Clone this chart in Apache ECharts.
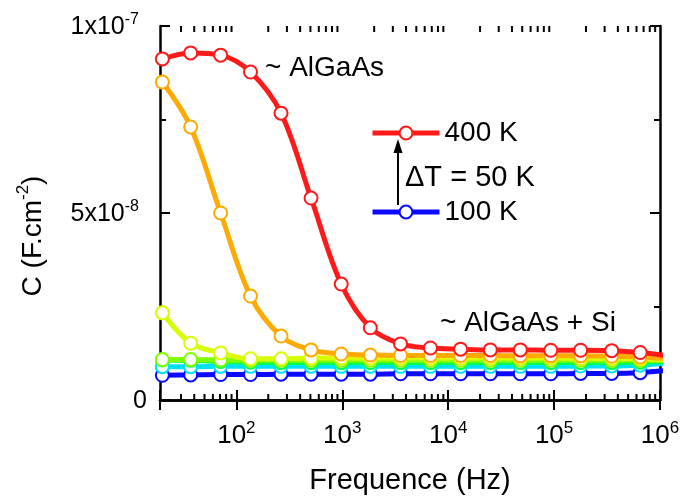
<!DOCTYPE html>
<html><head><meta charset="utf-8">
<script src="https://cdn.jsdelivr.net/npm/echarts@6/dist/echarts.min.js"></script>
<style>html,body{margin:0;padding:0;background:#fff}#c{width:682px;height:498px}</style>
</head><body><div id="c"></div>
<script>
// ---- data ----
const freq = [20, 37, 71, 136, 264, 507, 977, 1840, 3550, 6800, 13100, 25000, 48000, 93000, 178000, 350000, 650000, 1250000];
const c100 = [6.6e-9, 6.7e-9, 6.8e-9, 6.8e-9, 6.9e-9, 6.9e-9, 6.9e-9, 6.9e-9, 7.0e-9, 7.0e-9, 7.0e-9, 7.0e-9, 7.0e-9, 7.0e-9, 7.1e-9, 7.1e-9, 7.3e-9, 8.0e-9];
const c150 = [8.9e-9, 8.9e-9, 9.0e-9, 9.0e-9, 9.0e-9, 9.0e-9, 9.0e-9, 9.0e-9, 9.0e-9, 9.0e-9, 9.0e-9, 9.0e-9, 9.0e-9, 9.0e-9, 9.1e-9, 9.1e-9, 9.3e-9, 9.9e-9];
const c200 = [1.07e-8, 1.06e-8, 1.03e-8, 1.01e-8, 1.00e-8, 1.00e-8, 1.00e-8, 1.00e-8, 1.00e-8, 1.00e-8, 1.00e-8, 1.00e-8, 1.00e-8, 1.00e-8, 1.00e-8, 1.00e-8, 1.01e-8, 1.03e-8];
const c250 = [1.08e-8, 1.08e-8, 1.07e-8, 1.06e-8, 1.06e-8, 1.06e-8, 1.06e-8, 1.06e-8, 1.06e-8, 1.06e-8, 1.06e-8, 1.06e-8, 1.06e-8, 1.06e-8, 1.06e-8, 1.06e-8, 1.06e-8, 1.05e-8];
const c300 = [2.33e-8, 1.52e-8, 1.26e-8, 1.10e-8, 1.10e-8, 1.12e-8, 1.12e-8, 1.12e-8, 1.12e-8, 1.12e-8, 1.12e-8, 1.12e-8, 1.12e-8, 1.12e-8, 1.11e-8, 1.11e-8, 1.10e-8, 1.07e-8];
const c350 = [8.50e-8, 7.30e-8, 5.00e-8, 2.78e-8, 1.71e-8, 1.34e-8, 1.23e-8, 1.20e-8, 1.19e-8, 1.19e-8, 1.19e-8, 1.19e-8, 1.18e-8, 1.18e-8, 1.18e-8, 1.17e-8, 1.15e-8, 1.10e-8];
const c400 = [9.12e-8, 9.28e-8, 9.22e-8, 8.77e-8, 7.67e-8, 5.40e-8, 3.10e-8, 1.93e-8, 1.50e-8, 1.39e-8, 1.36e-8, 1.34e-8, 1.34e-8, 1.33e-8, 1.33e-8, 1.32e-8, 1.27e-8, 1.17e-8];
const seriesNames = ['100 K', '150 K', '200 K', '250 K', '300 K', '350 K', '400 K'];
const seriesColors = ['#0a0aff', '#00e1ff', '#00ff4c', '#80ff00', '#d8ff00', '#ffaa00', '#ff1a1a'];
const seriesValues = [c100, c150, c200, c250, c300, c350, c400];
const xTicks = [100, 1000, 10000, 100000, 1000000];
const xTickText = ['10^2', '10^3', '10^4', '10^5', '10^6'];
const xMinorTicks = [30,40,50,60,70,80,90, 200,300,400,500,600,700,800,900, 2000,3000,4000,5000,6000,7000,8000,9000,
  20000,30000,40000,50000,60000,70000,80000,90000, 200000,300000,400000,500000,600000,700000,800000,900000];
const yTicks = [0, 5e-8, 1e-7];
const yTickText = ['0', '5x10^-8', '1x10^-7'];
const legendShown = ['400 K', '100 K'];

// ---- chart ----
const FONT = '"Liberation Sans", Arial, sans-serif';
function richSup(t) {
  const i = t.indexOf('^');
  if (i < 0) return '{b|' + t + '}';
  return '{b|' + t.slice(0, i) + '}{s|' + t.slice(i + 1) + '}';
}
const tickRich = {
  b: { fontSize: 26, fontFamily: FONT, color: '#000', verticalAlign: 'bottom', lineHeight: 29 },
  s: { fontSize: 17, fontFamily: FONT, color: '#000', verticalAlign: 'top' }
};
const yRich = {
  b: { fontSize: 25, fontFamily: FONT, color: '#000', verticalAlign: 'bottom', lineHeight: 28 },
  s: { fontSize: 16, fontFamily: FONT, color: '#000', verticalAlign: 'top', padding: [0, 8, 0, 0] }
};
function nearIdx(arr, v, rel) {
  for (let i = 0; i < arr.length; i++) {
    if (Math.abs(arr[i] - v) <= rel * Math.max(Math.abs(arr[i]), 1e-12)) return i;
  }
  return -1;
}
const axisLine = { show: true, lineStyle: { color: '#000', width: 2.5 } };
const majTick = { show: true, inside: true, length: 10, lineStyle: { color: '#000', width: 2 } };

const series = seriesNames.map((n, k) => ({
  name: n, type: 'line', xAxisIndex: 0, yAxisIndex: 0,
  data: freq.map((f, i) => [f, seriesValues[k][i]]),
  smooth: 0.35, symbol: 'emptyCircle', symbolSize: 13, showAllSymbol: true,
  lineStyle: { color: seriesColors[k], width: 5 },
  itemStyle: { color: seriesColors[k], borderWidth: 3 },
  emphasis: { disabled: true }, clip: true, z: 2
}));
series.push({
  type: 'custom', xAxisIndex: 0, yAxisIndex: 0, silent: true, z: 5, clip: false,
  data: xMinorTicks.map(v => [v, 0]),
  renderItem: function (params, api) {
    const bot = api.coord([api.value(0), 0]);
    const top = api.coord([api.value(0), 1e-7]);
    const st = { stroke: '#000', lineWidth: 2 };
    return { type: 'group', children: [
      { type: 'line', shape: { x1: bot[0], y1: bot[1], x2: bot[0], y2: bot[1] - 6 }, style: st },
      { type: 'line', shape: { x1: top[0], y1: top[1], x2: top[0], y2: top[1] + 6 }, style: st }
    ] };
  }
});

const option = {
  animation: false,
  backgroundColor: '#fff',
  grid: { left: 160, right: 22, top: 26, bottom: 98, containLabel: false, outerBoundsMode: 'none' },
  legend: {
    data: legendShown, orient: 'vertical', left: 365, top: 114,
    itemWidth: 67, itemHeight: 16, itemGap: 51, selectedMode: false,
    lineStyle: { width: 5 }, itemStyle: { borderWidth: 3 },
    textStyle: { fontSize: 28, fontFamily: FONT, color: '#000' }
  },
  xAxis: [{
    type: 'log', min: 19, max: 1000000, position: 'bottom',
    axisLine: axisLine, axisTick: majTick, splitLine: { show: false },
    axisLabel: {
      margin: 20, rich: tickRich,
      formatter: v => { const i = nearIdx(xTicks, v, 1e-6); return i < 0 ? '' : richSup(xTickText[i]); }
    },
    name: 'Frequence (Hz)', nameLocation: 'middle', nameGap: 66,
    nameTextStyle: { fontSize: 29, fontFamily: FONT, color: '#000' }
  }, {
    type: 'log', min: 19, max: 1000000, position: 'top',
    axisLine: axisLine, axisTick: majTick, axisLabel: { show: false }, splitLine: { show: false }
  }],
  yAxis: [{
    type: 'value', min: 0, max: 1e-7, interval: 5e-8, position: 'left',
    axisLine: axisLine, axisTick: majTick, splitLine: { show: false },
    minorTick: { show: true, splitNumber: 2, length: 6, lineStyle: { color: '#000', width: 2 } },
    axisLabel: {
      margin: 13, rich: yRich,
      formatter: v => { const i = nearIdx(yTicks, v, 1e-6); return i < 0 ? '' : richSup(yTickText[i]); }
    },
    name: '{b|C (F.cm}{s|-2}{b|)}', nameLocation: 'middle', nameGap: 113, nameRotate: 90,
    nameTextStyle: { padding: [0, 46, 0, 0], rich: {
      b: { fontSize: 28, fontFamily: FONT, color: '#000', verticalAlign: 'bottom', lineHeight: 32 },
      s: { fontSize: 17, fontFamily: FONT, color: '#000', verticalAlign: 'top' }
    } }
  }, {
    type: 'value', min: 0, max: 1e-7, interval: 5e-8, position: 'right',
    axisLine: axisLine, axisTick: majTick, axisLabel: { show: false }, splitLine: { show: false },
    minorTick: { show: true, splitNumber: 2, length: 6, lineStyle: { color: '#000', width: 2 } }
  }],
  series: series,
  graphic: [
    { type: 'line', silent: true, z: 10, shape: { x1: 398, y1: 205, x2: 398, y2: 150 }, style: { stroke: '#000', lineWidth: 2 } },
    { type: 'polygon', silent: true, z: 10, shape: { points: [[398, 139], [393.5, 153], [402.5, 153]] }, style: { fill: '#000' } },
    { type: 'text', silent: true, z: 10, left: 405, top: 163, style: { text: '\u0394T = 50 K', font: '29px ' + FONT, fill: '#000' } },
    { type: 'text', silent: true, z: 10, left: 265, top: 54, style: { text: '~ AlGaAs', font: '28px ' + FONT, fill: '#000' } },
    { type: 'text', silent: true, z: 10, left: 440, top: 309, style: { text: '~ AlGaAs + Si', font: '28px ' + FONT, fill: '#000' } }
  ]
};
const chart = echarts.init(document.getElementById('c'), null, { renderer: 'canvas' });
chart.setOption(option);
</script>
</body></html>
